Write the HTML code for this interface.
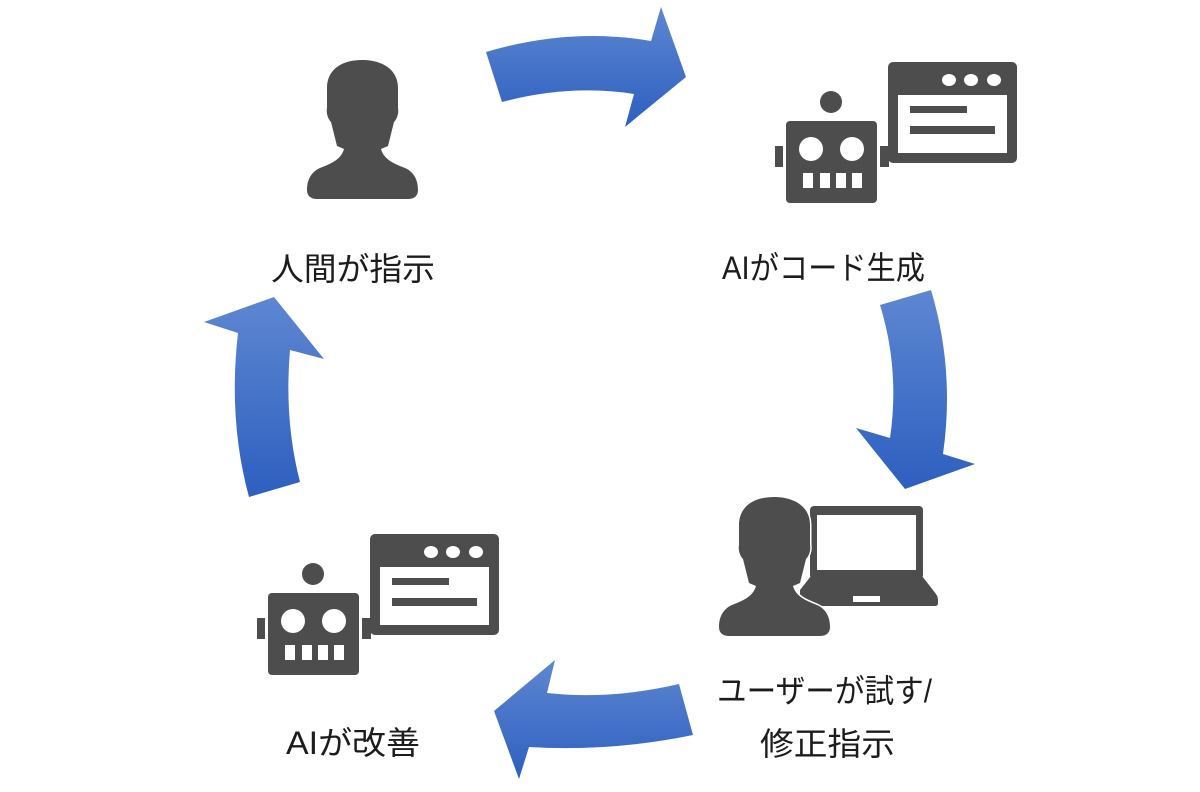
<!DOCTYPE html>
<html>
<head>
<meta charset="utf-8">
<style>
  html,body{margin:0;padding:0;background:#fff;}
  body{width:1200px;height:792px;overflow:hidden;}
  svg{display:block;}
  .lbl{font-family:"Liberation Sans","Noto Sans CJK JP",sans-serif;font-size:32px;fill:#1c1c1c;}
</style>
</head>
<body>
<svg width="1200" height="792" viewBox="0 0 1200 792" xmlns="http://www.w3.org/2000/svg">
  <defs>
    <linearGradient id="g" x1="0" y1="0" x2="0" y2="1">
      <stop offset="0" stop-color="#5e87d2"/>
      <stop offset="1" stop-color="#2d5fbf"/>
    </linearGradient>
    <g id="person">
      <path d="M362,60 C383,60 398,70 398,88 L398,108 C399,113 397,119 394,122 L388,146 L381,149 C384,160 395,164 405,168 C414,172 418,180 418,190 C418,196 414,199 408,199 L317,199 C311,199 307,196 307,190 C307,180 311,172 320,168 C330,164 341,160 344,149 L337,146 L331,122 C328,119 326,113 327,108 L327,88 C327,70 341,60 362,60 Z"/>
    </g>
    <g id="robot">
      <circle cx="831" cy="102" r="11" fill="#4d4d4d"/>
      <rect x="786" y="121" width="91" height="82" rx="4" fill="#4d4d4d"/>
      <rect x="775" y="146" width="8" height="21" fill="#4d4d4d"/>
      <rect x="880" y="146" width="9" height="21" fill="#4d4d4d"/>
      <circle cx="811" cy="149" r="12" fill="#fff"/>
      <circle cx="852" cy="149" r="12" fill="#fff"/>
      <rect x="803" y="173" width="10" height="15" fill="#fff"/>
      <rect x="820" y="173" width="10" height="15" fill="#fff"/>
      <rect x="836" y="173" width="10" height="15" fill="#fff"/>
      <rect x="852" y="173" width="10" height="15" fill="#fff"/>
      <rect x="888" y="62" width="129" height="101" rx="5" fill="#4d4d4d"/>
      <rect x="898" y="95" width="109" height="58" fill="#fff"/>
      <ellipse cx="949" cy="80" rx="7" ry="6" fill="#fff"/>
      <ellipse cx="971" cy="80" rx="7" ry="6" fill="#fff"/>
      <ellipse cx="994" cy="80" rx="7" ry="6" fill="#fff"/>
      <rect x="910" y="106" width="57" height="7" fill="#4d4d4d"/>
      <rect x="910" y="126" width="85" height="8" fill="#4d4d4d"/>
    </g>
  </defs>

  <!-- Arrows -->
  <path fill="url(#g)" d="M486,52 Q570,27 651,41 L661,7 L686,77 L625,127 L634,94 Q570,84 502,102 Z"/>
  <path fill="url(#g)" d="M880,305 L931,290 Q955,370 943,454 L975,464 L905,489 L856,428 L890,438 Q900,370 880,305 Z"/>
  <path fill="url(#g)" d="M679,684 Q610,700 547,693 L555,660 L494,711 L519,779 L529,747 Q610,752 693,735 Z"/>
  <path fill="url(#g)" d="M249,497 L300,482 Q284,420 290,350 L324,359 L274,297 L204,322 L238,333 Q228,420 249,497 Z"/>

  <!-- Person top-left -->
  <use href="#person" fill="#4d4d4d"/>

  <!-- Robot top-right -->
  <use href="#robot"/>

  <!-- Robot bottom-left -->
  <use href="#robot" transform="translate(-518,472)"/>

  <!-- Laptop -->
  <rect x="810" y="506" width="113" height="73" rx="4" fill="#4d4d4d"/>
  <rect x="817" y="515" width="99" height="55" fill="#fff"/>
  <path fill="#4d4d4d" d="M811,576 L922,576 L936,594 Q938,597 938,600 L938,603 Q938,606 935,606 L800,606 L800,590 Z"/>
  <rect x="853" y="596" width="27" height="6" fill="#fff"/>

  <!-- Person bottom-right -->
  <g transform="translate(412,437)">
    <use href="#person" fill="#4d4d4d" stroke="#fff" stroke-width="3" style="paint-order:stroke"/>
  </g>

  <!-- Labels -->
  <text class="lbl" x="271" y="280" textLength="164" lengthAdjust="spacingAndGlyphs">人間が指示</text>
  <text class="lbl" x="722" y="279" textLength="203" lengthAdjust="spacingAndGlyphs">AIがコード生成</text>
  <text class="lbl" x="717" y="702" textLength="215" lengthAdjust="spacingAndGlyphs">ユーザーが試す/</text>
  <text class="lbl" x="760" y="755" textLength="135" lengthAdjust="spacingAndGlyphs">修正指示</text>
  <text class="lbl" x="286" y="754" textLength="134" lengthAdjust="spacingAndGlyphs">AIが改善</text>
</svg>
</body>
</html>
